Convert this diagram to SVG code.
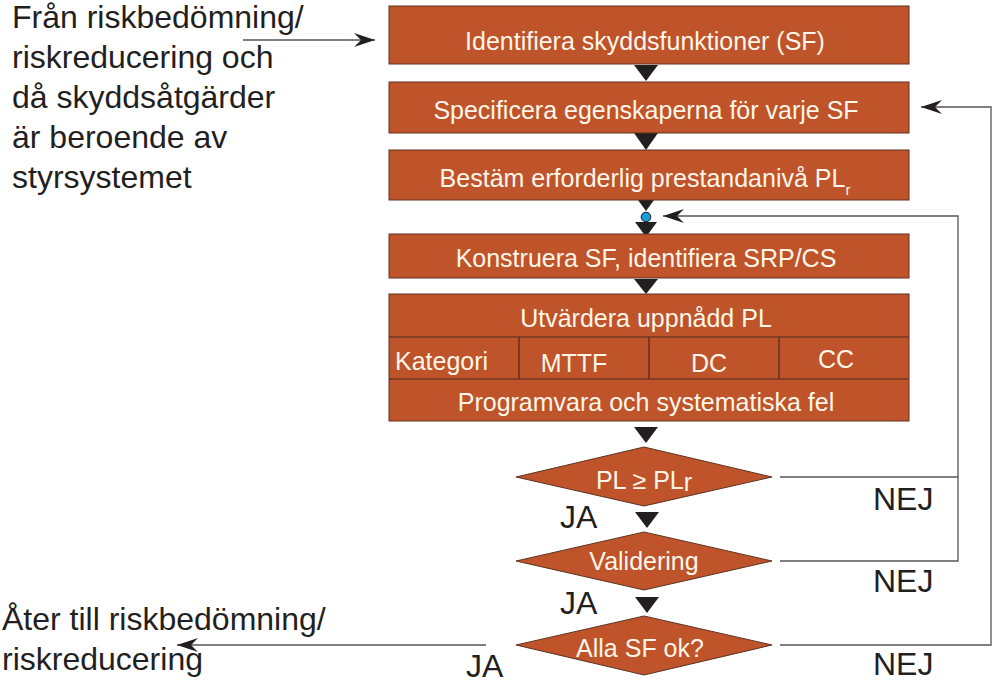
<svg xmlns="http://www.w3.org/2000/svg" width="992" height="688" viewBox="0 0 992 688">
<defs>
<style>
.box{fill:#BF5329;stroke:#5e3322;stroke-width:1}
.div{stroke:#4a2a1c;stroke-width:1.2;fill:none}
.tri{fill:#231f20}
.in{font-family:"Liberation Sans",Arial,sans-serif;font-size:25px;fill:#fdf6ea;text-anchor:middle}
.out{font-family:"Liberation Sans",Arial,sans-serif;font-size:32px;fill:#231f20}
.ln{stroke:#555;stroke-width:1.3;fill:none}
</style>
<marker id="arr" viewBox="-22 -8 23 16" refX="0" refY="0" markerWidth="23" markerHeight="16" orient="auto" markerUnits="userSpaceOnUse">
<path d="M0,0 L-21,-7 L-14,0 L-21,7 Z" fill="#231f20"/>
</marker>
</defs>
<rect width="992" height="688" fill="#ffffff"/>

<g id="intro-text">
<text class="out" x="12" y="28">Från riskbedömning/</text>
<text class="out" x="12" y="68">riskreducering och</text>
<text class="out" x="12" y="108">då skyddsåtgärder</text>
<text class="out" x="12" y="148">är beroende av</text>
<text class="out" x="12" y="188">styrsystemet</text>
</g>

<g id="exit-text">
<text class="out" x="2" y="630">Åter till riskbedömning/</text>
<text class="out" x="2" y="670">riskreducering</text>
</g>

<g id="connectors">
<line class="ln" x1="243" y1="40" x2="375" y2="40" marker-end="url(#arr)"/>
<polyline class="ln" points="780,561 958,561 958,216 663,216" marker-end="url(#arr)"/>
<line class="ln" x1="780" y1="477" x2="958" y2="477"/>
<polyline class="ln" points="780,645 991,645 991,107 921,107" marker-end="url(#arr)"/>
<line class="ln" x1="486" y1="645" x2="177" y2="645" marker-end="url(#arr)"/>
<polygon class="tri" points="634,65 658,65 646,81"/>
<polygon class="tri" points="634,133 658,133 646,150"/>
<polygon class="tri" points="635,196 657,196 646,211"/>
<polygon class="tri" points="635,222 657,222 646,237"/>
<polygon class="tri" points="634,279 658,279 646,294"/>
<polygon class="tri" points="634,427 658,427 646,443"/>
<polygon class="tri" points="635,512 659,512 647,528"/>
<polygon class="tri" points="635,597 659,597 647,613"/>
<circle cx="646" cy="217" r="4.8" fill="#1a9ad6" stroke="#1a1a1a" stroke-width="1"/>
</g>

<g id="n1">
<rect class="box" x="389" y="6" width="520" height="58"/>
<text class="in" x="645" y="50">Identifiera skyddsfunktioner (SF)</text>
</g>

<g id="n2">
<rect class="box" x="389" y="82" width="520" height="51"/>
<text class="in" x="646" y="119">Specificera egenskaperna för varje SF</text>
</g>

<g id="n3">
<rect class="box" x="389" y="150" width="520" height="50"/>
<text class="in" x="645" y="187">Bestäm erforderlig prestandanivå PL<tspan font-size="15" dy="8">r</tspan></text>
</g>

<g id="n4">
<rect class="box" x="389" y="234" width="520" height="44"/>
<text class="in" x="646" y="267">Konstruera SF, identifiera SRP/CS</text>
</g>

<g id="n5">
<rect class="box" x="389" y="294" width="520" height="127"/>
<line class="div" x1="389" y1="337" x2="909" y2="337"/>
<line class="div" x1="389" y1="379" x2="909" y2="379"/>
<line class="div" x1="519" y1="337" x2="519" y2="379"/>
<line class="div" x1="649" y1="337" x2="649" y2="379"/>
<line class="div" x1="779" y1="337" x2="779" y2="379"/>
<text class="in" x="646" y="327">Utvärdera uppnådd PL</text>
<text class="in" x="395" y="370" style="text-anchor:start">Kategori</text>
<text class="in" x="574" y="372">MTTF</text>
<text class="in" x="709" y="372">DC</text>
<text class="in" x="836" y="368">CC</text>
<text class="in" x="646" y="411">Programvara och systematiska fel</text>
</g>

<g id="d1">
<polygon class="box" points="516,477 644,447 772,477 644,506"/>
<text class="in" x="644" y="489">PL ≥ PL<tspan dy="2">r</tspan></text>
</g>

<g id="d2">
<polygon class="box" points="516,561 644,532 772,561 644,590"/>
<text class="in" x="644" y="570">Validering</text>
</g>

<g id="d3">
<polygon class="box" points="516,645 644,616 772,645 644,675"/>
<text class="in" x="640" y="657">Alla SF ok?</text>
</g>

<g id="labels">
<text class="out" x="873" y="510">NEJ</text>
<text class="out" x="873" y="592">NEJ</text>
<text class="out" x="873" y="675">NEJ</text>
<text class="out" x="560" y="528">JA</text>
<text class="out" x="560" y="614">JA</text>
<text class="out" x="466" y="677">JA</text>
</g>
</svg>
